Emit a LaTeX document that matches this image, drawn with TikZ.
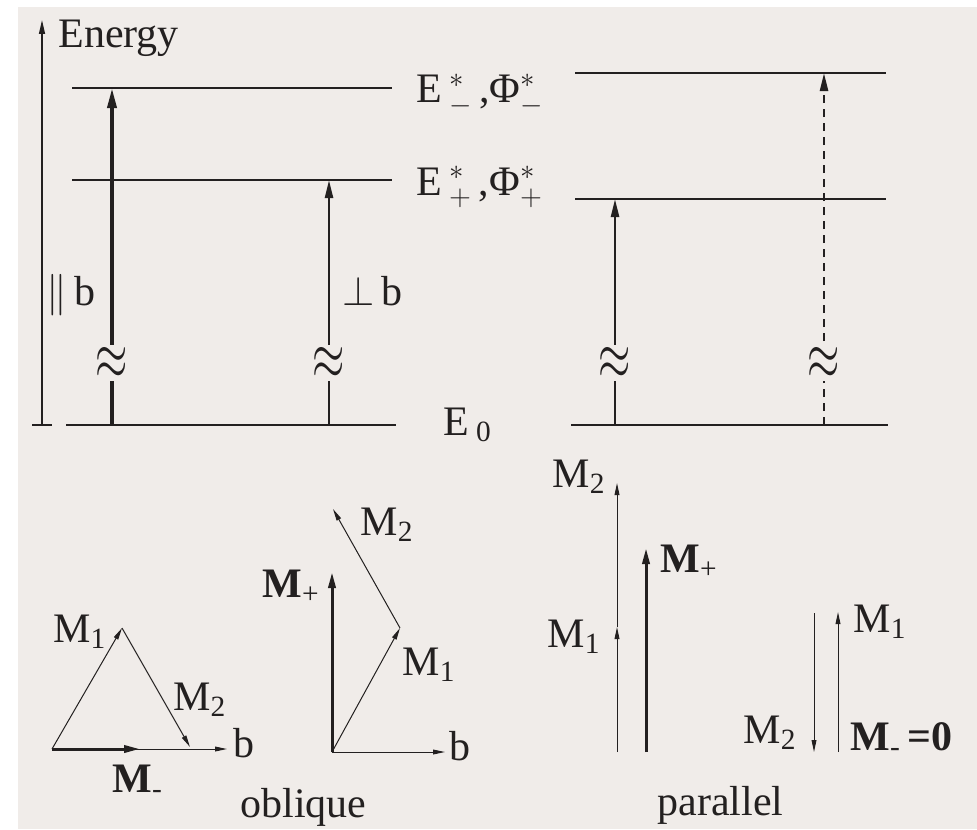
\documentclass[tikz,border=0pt]{standalone}
\usepackage{fontspec}
\setmainfont{Liberation Serif}
\usetikzlibrary{arrows.meta, positioning}
\definecolor{paper}{RGB}{240,236,233}
\definecolor{ink}{RGB}{35,32,32}

\begin{document}
\begin{tikzpicture}[
  x=0.5pt, y=-0.5pt,
  font=\fontsize{21}{24}\selectfont,
  every node/.style={text=ink, inner sep=0pt},
  level/.style={draw=ink, line width=0.7pt},
  axis/.style={draw=ink, line width=0.7pt, -{Triangle[length=7pt, width=3pt]}},
  trans/.style={draw=ink, line width=1.2pt, -{Triangle[length=9pt, width=4pt]}},
  transbold/.style={draw=ink, line width=1.8pt, -{Triangle[length=10pt, width=4.5pt]}},
  transdash/.style={trans, dash pattern=on 4pt off 3pt},
  brk/.style={fill=paper, inner sep=1pt},
  thinvec/.style={draw=ink, line width=0.5pt, -{Triangle[length=6pt, width=2.4pt]}},
  thickvec/.style={draw=ink, line width=1.5pt, -{Triangle[length=8pt, width=3.6pt]}},
  lbl/.style={anchor=base west}
]
\useasboundingbox (0,0) rectangle (977,829);
\fill[paper] (18,7) rectangle (977,829);
% energy levels
\coordinate (ax0) at (42,425);
\coordinate (ax1) at (42,20);
\coordinate (tk0) at (32,425);
\coordinate (tk1) at (52,425);
\coordinate (lvlAl) at (72,88);
\coordinate (lvlAr) at (392,88);
\coordinate (lvlBl) at (72,180);
\coordinate (lvlBr) at (392,180);
\coordinate (lvlGl) at (66,425);
\coordinate (lvlGr) at (396,425);
\coordinate (lvlCl) at (575,73);
\coordinate (lvlCr) at (886,73);
\coordinate (lvlDl) at (575,199);
\coordinate (lvlDr) at (886,199);
\coordinate (lvlHl) at (571,425);
\coordinate (lvlHr) at (888,425);
\draw [axis] (ax0) -- (ax1);
\draw [level] (tk0) -- (tk1);
\draw [level] (lvlAl) -- (lvlAr);
\draw [level] (lvlBl) -- (lvlBr);
\draw [level] (lvlGl) -- (lvlGr);
\draw [level] (lvlCl) -- (lvlCr);
\draw [level] (lvlDl) -- (lvlDr);
\draw [level] (lvlHl) -- (lvlHr);
\node (energy) [lbl] at (58,48) {Energy};
\node (emlabel) [lbl] at (416,103) {E\,$^{*}_{-}$\,,Φ$^{*}_{-}$};
\node (eplabel) [lbl] at (416,195) {E\,$^{*}_{+}$\,,Φ$^{*}_{+}$};
\node (e0label) [lbl] at (443,435) {E\,\textsubscript{0}};
% transitions
\coordinate (tpar0) at (112,425);
\coordinate (tpar1) at (112,88);
\coordinate (tperp0) at (329,425);
\coordinate (tperp1) at (329,180);
\coordinate (tplus0) at (615,425);
\coordinate (tplus1) at (615,199);
\coordinate (tminus0) at (824,425);
\coordinate (tminus1) at (824,73);
\draw [transbold] (tpar0) -- (tpar1);
\draw [trans] (tperp0) -- (tperp1);
\draw [trans] (tplus0) -- (tplus1);
\draw [transdash] (tminus0) -- (tminus1);
\node (brkpar) [brk] at (112,363) {\scalebox{1}[1.6]{$\approx$}};
\node (brkperp) [brk] at (329,363) {\scalebox{1}[1.6]{$\approx$}};
\node (brkplus) [brk] at (615,363) {\scalebox{1}[1.6]{$\approx$}};
\node (brkminus) [brk] at (824,363) {\scalebox{1}[1.6]{$\approx$}};
\node (parlabel) [lbl] at (46,305) {$\|$\,b};
\node (perplabel) [lbl] at (342,305) {$\perp$\,b};
% oblique, M- triangle
\coordinate (obA) at (52,749);
\coordinate (obAtop) at (122,628);
\coordinate (obAend) at (190,747);
\coordinate (obAmin) at (140,749);
\coordinate (obAb) at (227,749);
\draw [thinvec] (obA) -- (obAb);
\draw [thickvec] (obA) -- (obAmin);
\draw [thinvec] (obA) -- (obAtop);
\draw [thinvec] (obAtop) -- (obAend);
\node (obAm1) [lbl] at (53,642) {M\textsubscript{1}};
\node (obAm2) [lbl] at (173,710) {M\textsubscript{2}};
\node (obAmm) [lbl] at (112,792) {\textbf{M}\textsubscript{-}};
\node (obAblbl) [lbl] at (233,757) {b};
% oblique, M+ triangle
\coordinate (obB) at (332,752);
\coordinate (obBb) at (445,752);
\coordinate (obBplus) at (332,572);
\coordinate (obBmid) at (400,628);
\coordinate (obBend) at (333,509);
\draw [thinvec] (obB) -- (obBb);
\draw [thickvec] (obB) -- (obBplus);
\draw [thinvec] (obB) -- (obBmid);
\draw [thinvec] (obBmid) -- (obBend);
\node (obBmp) [lbl] at (262,597) {\textbf{M}\textsubscript{+}};
\node (obBm2) [lbl] at (360,535) {M\textsubscript{2}};
\node (obBm1) [lbl] at (402,675) {M\textsubscript{1}};
\node (obBblbl) [lbl] at (449,760) {b};
\node (oblique) [lbl] at (240,817) {oblique};
% parallel
\coordinate (paA0) at (617,752);
\coordinate (paA1) at (617,627);
\coordinate (paA2) at (617,483);
\coordinate (paB0) at (646,752);
\coordinate (paB1) at (646,548);
\coordinate (paC0) at (814,613);
\coordinate (paC1) at (814,752);
\coordinate (paD0) at (838,752);
\coordinate (paD1) at (838,612);
\draw [thinvec] (paA0) -- (paA1);
\draw [thinvec] (paA1) -- (paA2);
\draw [thickvec] (paB0) -- (paB1);
\draw [thinvec] (paC0) -- (paC1);
\draw [thinvec] (paD0) -- (paD1);
\node (paAm2) [lbl] at (552,487) {M\textsubscript{2}};
\node (paAm1) [lbl] at (547,647) {M\textsubscript{1}};
\node (paBmp) [lbl] at (660,572) {\textbf{M}\textsubscript{+}};
\node (paDm1) [lbl] at (853,632) {M\textsubscript{1}};
\node (paCm2) [lbl] at (743,743) {M\textsubscript{2}};
\node (paMzero) [lbl] at (850,750) {\textbf{M}\textsubscript{-}\,\textbf{=0}};
\node (parallel) [lbl] at (657,815) {parallel};
\end{tikzpicture}
\end{document}
